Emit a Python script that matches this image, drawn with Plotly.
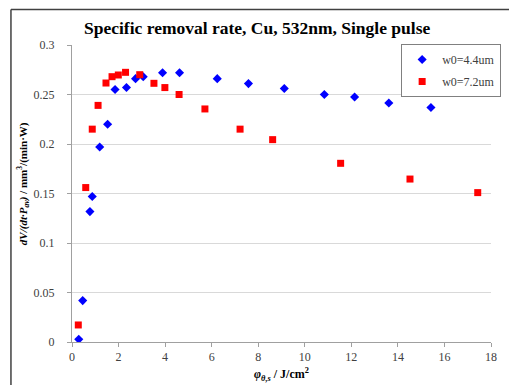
import plotly.graph_objects as go

# Data
fluence_44 = [0.29, 0.46, 0.77, 0.87, 1.19, 1.53, 1.85, 2.34, 2.73, 3.06, 3.89, 4.62,
              6.24, 7.58, 9.12, 10.84, 12.14, 13.61, 15.42]
rate_44 = [0.0027, 0.0418, 0.1317, 0.1469, 0.197, 0.220, 0.255, 0.257, 0.266, 0.268,
           0.272, 0.272, 0.266, 0.261, 0.256, 0.250, 0.2475, 0.2414, 0.2368]

fluence_72 = [0.27, 0.59, 0.87, 1.12, 1.46, 1.72, 1.99, 2.30, 2.91, 3.52, 3.99, 4.60,
              5.71, 7.22, 8.62, 11.54, 14.52, 17.43]
rate_72 = [0.0172, 0.156, 0.215, 0.239, 0.2616, 0.268, 0.2697, 0.2724, 0.270, 0.2613,
           0.257, 0.250, 0.2354, 0.215, 0.2044, 0.1805, 0.1646, 0.1509]

series_names = ["w0=4.4um", "w0=7.2um"]
title_text = "Specific removal rate, Cu, 532nm, Single pulse"
x_ticks = [0, 2, 4, 6, 8, 10, 12, 14, 16, 18]
y_ticks = [0, 0.05, 0.1, 0.15, 0.2, 0.25, 0.3]

SERIF = "Liberation Serif"

fig = go.Figure()
fig.add_trace(go.Scatter(x=fluence_44, y=rate_44, mode="markers", name=series_names[0],
                         legendgroup="a",
                         marker=dict(symbol="diamond", size=7, color="#0000FF")))
fig.add_trace(go.Scatter(x=fluence_72, y=rate_72, mode="markers", name=series_names[1],
                         legendgroup="b",
                         marker=dict(symbol="square", size=7, color="#FF0000")))

L, R, T, B = 72, 8, 45, 43
W, H = 509, 385
pw, ph = W - L - R, H - T - B

def px(x):
    return (x - L) / pw

def py(y):
    return (H - B - y) / ph

fig.update_layout(
    width=W, height=H,
    margin=dict(l=L, r=R, t=T, b=B),
    paper_bgcolor="white", plot_bgcolor="white",
    font=dict(family=SERIF, size=12, color="#404040"),
    showlegend=True,
    legend=dict(x=px(409), y=py(44), xanchor="left", yanchor="top",
                bgcolor="white", bordercolor="#808080", borderwidth=1,
                font=dict(family=SERIF, size=12, color="#404040"),
                itemwidth=30, traceorder="grouped", tracegroupgap=3),
    xaxis=dict(range=[0, 18], tickvals=x_ticks, showgrid=False, zeroline=False,
               showline=True, linecolor="#A0A0A0", linewidth=1,
               ticks="outside", ticklen=4, tickcolor="#A0A0A0",
               tickfont=dict(family=SERIF, size=12, color="#404040")),
    yaxis=dict(range=[0, 0.3], tickvals=y_ticks, showgrid=True, gridcolor="#D9D9D9",
               gridwidth=1, zeroline=False,
               showline=True, linecolor="#A0A0A0", linewidth=1,
               ticks="outside", ticklen=4, tickcolor="#A0A0A0", ticklabelstandoff=10,
               tickfont=dict(family=SERIF, size=12, color="#404040")),
    annotations=[
        dict(text="<b>" + title_text + "</b>", xref="paper", yref="paper",
             x=px(261), y=py(28), xanchor="center", yanchor="middle", showarrow=False,
             font=dict(family=SERIF, size=17.5, color="#000000")),
        dict(text="<b><i>φ<sub>θ,s</sub></i> / J/cm<sup>2</sup></b>", xref="paper", yref="paper",
             x=px(287), y=py(374), xanchor="center", yanchor="middle", showarrow=False,
             font=dict(family=SERIF, size=12, color="#000000")),
        dict(text="<b><i>dV/(dt·P<sub>av</sub>)</i> / mm<sup>3</sup>/(min·W)</b>",
             xref="paper", yref="paper", x=px(22), y=py(184), xanchor="center",
             yanchor="middle", textangle=-90, showarrow=False,
             font=dict(family=SERIF, size=11, color="#000000")),
    ],
    shapes=[
        dict(type="line", xref="paper", yref="paper", x0=px(9.5), x1=px(520),
             y0=py(9.5), y1=py(9.5), line=dict(color="#404040", width=1.5)),
        dict(type="line", xref="paper", yref="paper", x0=px(9.5), x1=px(9.5),
             y0=py(9.5), y1=py(400), line=dict(color="#404040", width=1.5)),
    ],
)

fig.write_html("out.html")
